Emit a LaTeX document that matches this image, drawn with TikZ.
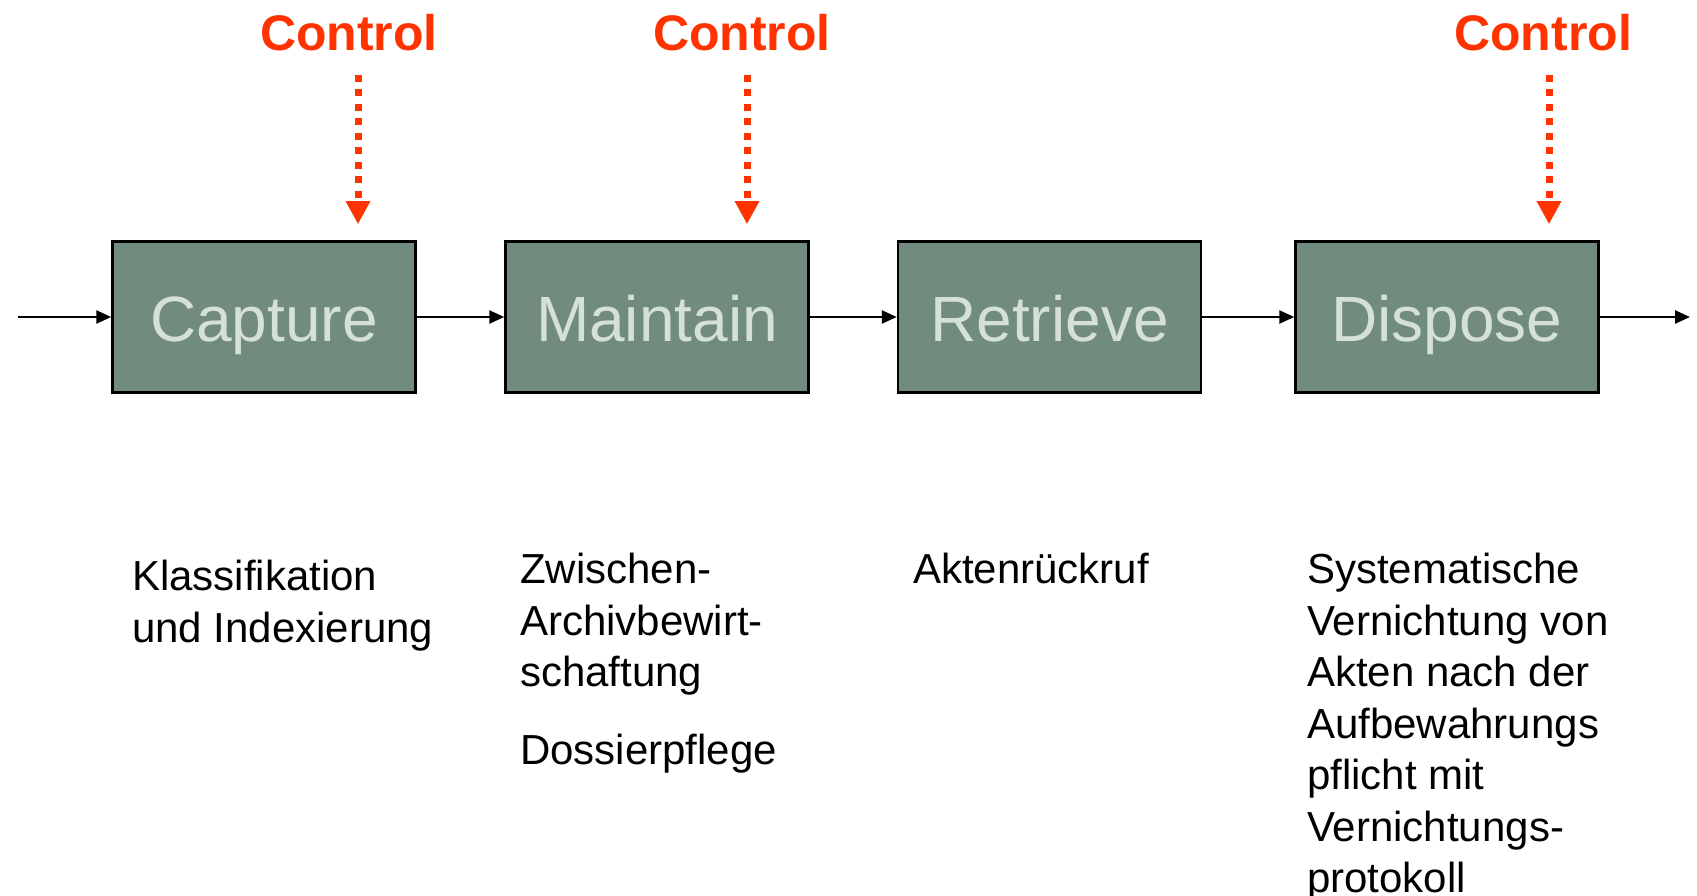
\documentclass[tikz,border=0pt]{standalone}
\usepackage{fontspec}
\setmainfont{Liberation Sans}
\usetikzlibrary{arrows.meta}
\definecolor{boxfill}{HTML}{718B7E}
\definecolor{boxtext}{HTML}{D5E0D9}
\definecolor{ctrl}{HTML}{FF3300}
\begin{document}
\begin{tikzpicture}[x=1pt,y=-1pt,
  stage/.style={draw=black, line width=2.5pt, fill=boxfill, text=boxtext,
    minimum width=303pt, minimum height=151pt, inner sep=0pt,
    text height=52pt, text depth=2.6pt,
    font=\fontsize{64}{70}\selectfont},
  flow/.style={line width=2.5pt, -{Triangle[length=15pt,width=13pt]}},
  ctrllabel/.style={text=ctrl, font=\fontsize{50}{56}\selectfont\bfseries, inner sep=0pt},
  ctrlarrow/.style={draw=ctrl, line width=7pt, dash pattern=on 7pt off 7.5pt,
    -{Triangle[length=23pt,width=23pt,fill=ctrl]}, shorten >=16pt},
  desc/.style={anchor=north west, align=left, inner sep=0pt,
    font=\fontsize{42}{51.5}\selectfont}
  ]
\useasboundingbox (0,0) rectangle (1697,896);

\node[stage] (capture)  at (264,317)  {Capture};
\node[stage] (maintain) at (657,317)  {Maintain};
\node[stage] (retrieve) at (1049.5,317) {Retrieve};
\node[stage] (dispose)  at (1447,317) {Dispose};

\coordinate (in)  at (18,317);
\coordinate (out) at (1690,317);

\draw[flow] (in) -- (capture.west);
\draw[flow] (capture.east) -- (maintain.west);
\draw[flow] (maintain.east) -- (retrieve.west);
\draw[flow] (retrieve.east) -- (dispose.west);
\draw[flow] (dispose.east) -- (out);

\node[ctrllabel] (c1) at (349,33) {Control};
\node[ctrllabel] (c2) at (742,33) {Control};
\node[ctrllabel] (c3) at (1543,33) {Control};

\coordinate (s1) at (358,75);
\coordinate (s2) at (747,75);
\coordinate (s3) at (1549,75);

\draw[ctrlarrow] (s1) -- (s1 |- capture.north);
\draw[ctrlarrow] (s2) -- (s2 |- maintain.north);
\draw[ctrlarrow] (s3) -- (s3 |- dispose.north);

\node[desc] (d1) at (132,560) {Klassifikation\\und Indexierung};
\node[desc] (d2) at (520,553) {Zwischen-\\Archivbewirt-\\schaftung\\[26pt]Dossierpflege};
\node[desc] (d3) at (913,553) {Aktenrückruf};
\node[desc] (d4) at (1307,553) {Systematische\\Vernichtung von\\Akten nach der\\Aufbewahrungs\\pflicht mit\\Vernichtungs-\\protokoll};
\end{tikzpicture}
\end{document}
